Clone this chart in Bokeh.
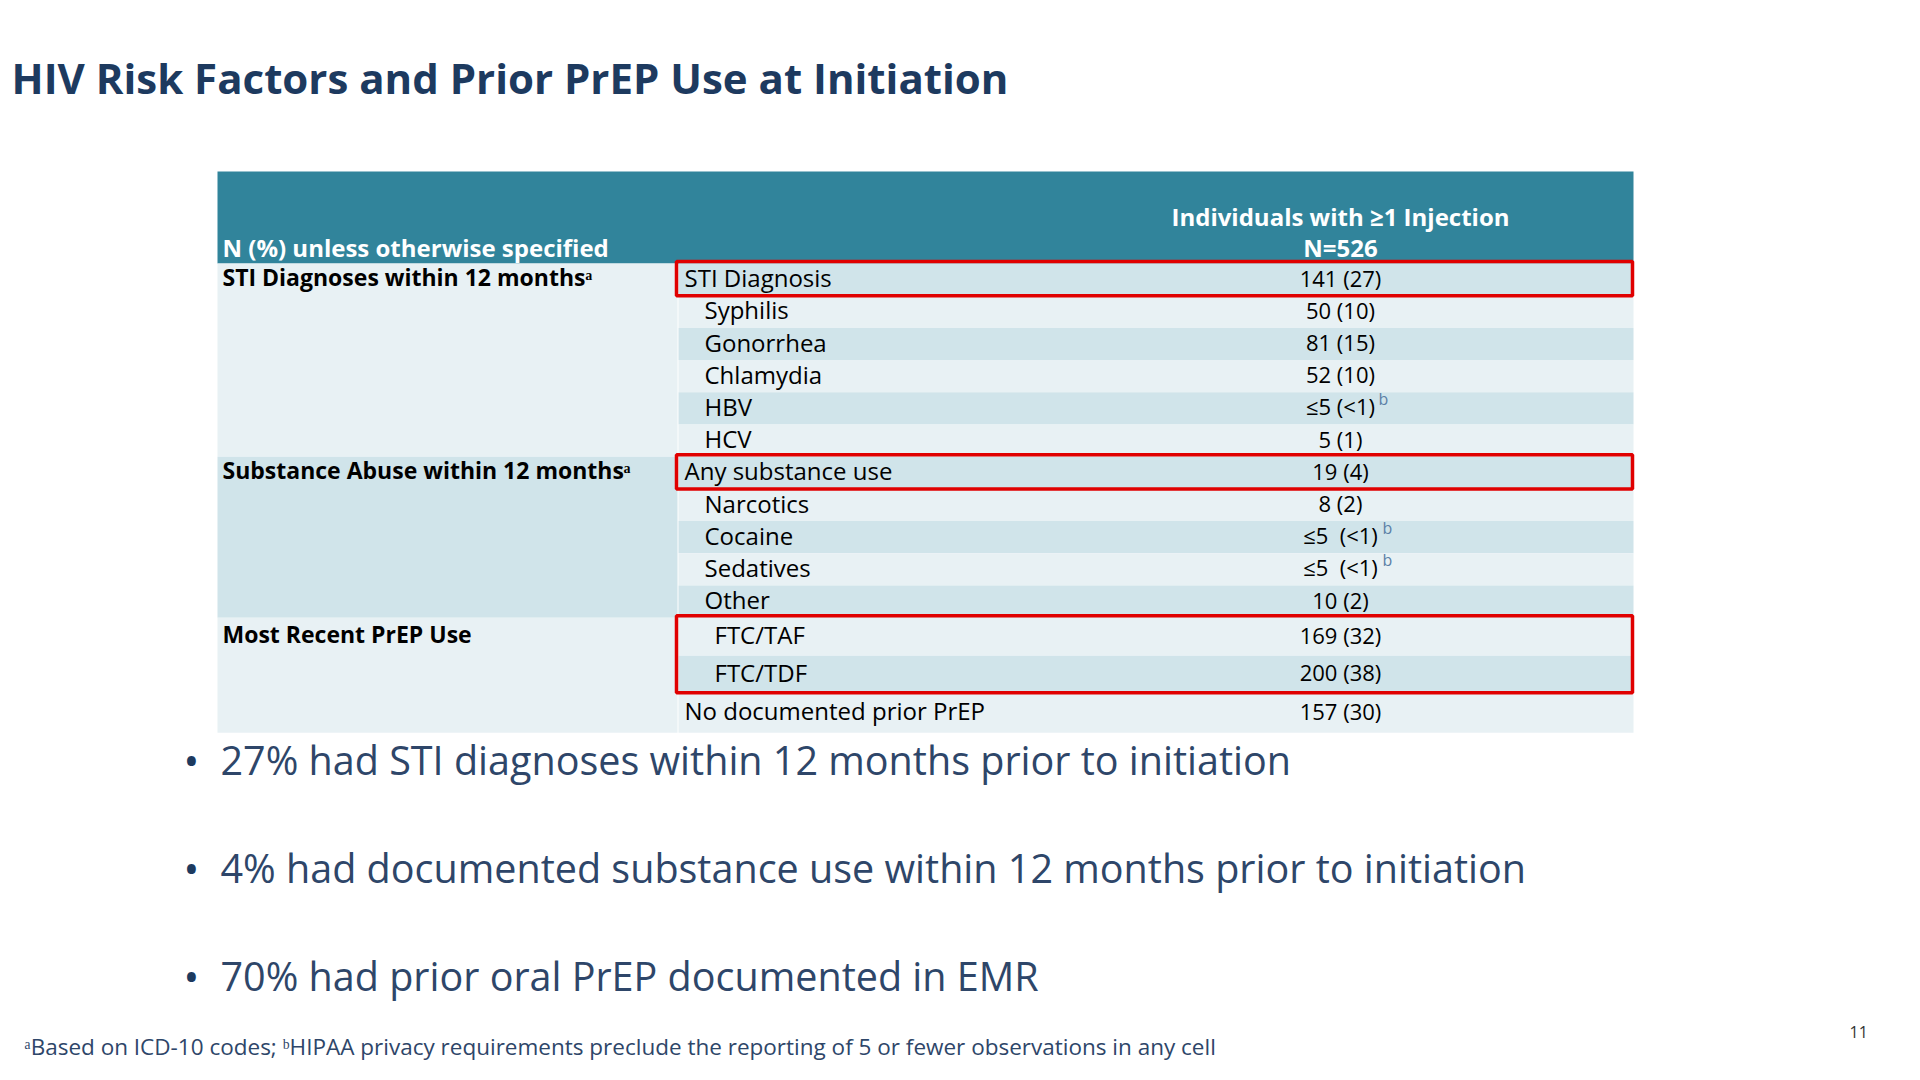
from bokeh.plotting import figure
from bokeh.models import Range1d
from bokeh.core.properties import value
from bokeh.embed import file_html
from bokeh.resources import INLINE

# ---------------- data ----------------
title = "HIV Risk Factors and Prior PrEP Use at Initiation"
header_left = "N (%) unless otherwise specified"
header_right = ["Individuals with \u22651 Injection", "N=526"]

groups = ["STI Diagnoses within 12 months\u1d43",
          "Substance Abuse within 12 months\u1d43",
          "Most Recent PrEP Use"]
group_first_row = [0, 6, 11]
group_sizes = [6, 5, 3]

items = ["STI Diagnosis", "Syphilis", "Gonorrhea", "Chlamydia", "HBV", "HCV",
         "Any substance use", "Narcotics", "Cocaine", "Sedatives", "Other",
         "FTC/TAF", "FTC/TDF", "No documented prior PrEP"]
indent = [0, 1, 1, 1, 1, 1, 0, 1, 1, 1, 1, 2, 2, 0]
values = ["141 (27)", "50 (10)", "81 (15)", "52 (10)", "\u22645 (<1)", "5 (1)",
          "19 (4)", "8 (2)", "\u22645\u00a0 (<1)", "\u22645\u00a0 (<1)", "10 (2)",
          "169 (32)", "200 (38)", "157 (30)"]
note_b = [False, False, False, False, True, False, False, False, True, True,
          False, False, False, False]
highlight = [(0, 0), (6, 6), (11, 12)]

bullets = ["27% had STI diagnoses within 12 months prior to initiation",
           "4% had documented substance use within 12 months prior to initiation",
           "70% had prior oral PrEP documented in EMR"]
footnote = ("\u1d43Based on ICD-10 codes; \u1d47HIPAA privacy requirements preclude "
            "the reporting of 5 or fewer observations in any cell")
page_no = "11"

# ---------------- layout / style ----------------
FONT = value("Open Sans")
NAVY = "#1d3a5f"
SLATE = "#2e4669"
TEAL = "#31849b"
LIGHT = "#e8f1f4"
DARK = "#d0e4ea"
RED = "#e00000"

TL, COL, TR = 217, 677, 1633
HEAD_TOP, HEAD_BOT = 171, 263
row_h = [32.2] * 11 + [38, 37, 40]
edges = [HEAD_BOT]
for h in row_h:
    edges.append(edges[-1] + h)
VAL_X = 1340
INDENT_PX = [0, 20, 30]

W, H = 1904, 1064
p = figure(width=W, height=H, x_range=Range1d(0, W), y_range=Range1d(H, 0),
           output_backend="svg", toolbar_location=None, min_border=0,
           x_axis_type=None, y_axis_type=None)
p.grid.visible = False
p.outline_line_color = None
p.background_fill_color = "white"
p.border_fill_color = "white"

# title
p.text(x=[11], y=[77], text=[title], text_font=FONT, text_font_style="bold",
       text_font_size="42px", text_color=NAVY, text_baseline="middle")

# header band
p.quad(left=[TL], right=[TR], top=[HEAD_TOP], bottom=[HEAD_BOT], fill_color=TEAL, line_color=None)

# group bands (column 1)
g_left, g_right, g_top, g_bot, g_col = [], [], [], [], []
for gi, (r0, n) in enumerate(zip(group_first_row, group_sizes)):
    g_left.append(TL); g_right.append(COL)
    g_top.append(edges[r0]); g_bot.append(edges[r0 + n])
    g_col.append(LIGHT if gi % 2 == 0 else DARK)
p.quad(left=g_left, right=g_right, top=g_top, bottom=g_bot, fill_color=g_col, line_color=None)

# row bands (columns 2-3)
r_top = edges[:-1]
r_bot = edges[1:]
r_col = [DARK if i % 2 == 0 else LIGHT for i in range(len(items))]
p.quad(left=[COL + 1] * len(items), right=[TR] * len(items), top=r_top, bottom=r_bot,
       fill_color=r_col, line_color=None)

# header text
p.text(x=[TL + 5], y=[247], text=[header_left], text_font=FONT, text_font_style="bold",
       text_font_size="24px", text_color="white", text_baseline="middle")
p.text(x=[VAL_X, VAL_X], y=[216, 247], text=header_right, text_font=FONT, text_font_style="bold",
       text_font_size="24px", text_color="white", text_baseline="middle", text_align="center")

# group labels
gy = [(edges[r] + edges[r + 1]) / 2 - 3 for r in group_first_row]
p.text(x=[TL + 5] * len(groups), y=gy, text=groups, text_font=FONT, text_font_style="bold",
       text_font_size="23px", text_color="black", text_baseline="middle")

# item labels and values
iy = [(a + b) / 2 - 2 for a, b in zip(r_top, r_bot)]
ix = [COL + 7 + INDENT_PX[lv] for lv in indent]
p.text(x=ix, y=iy, text=items, text_font=FONT, text_font_size="24px",
       text_color="black", text_baseline="middle")
p.text(x=[VAL_X] * len(values), y=iy, text=values, text_font=FONT, text_font_size="22px",
       text_color="black", text_baseline="middle", text_align="center")
bx = [VAL_X + (38 if "\u00a0" not in v else 42) for v, b in zip(values, note_b) if b]
by = [y - 7 for y, b in zip(iy, note_b) if b]
p.text(x=bx, y=by, text=["b"] * len(bx), text_font=FONT, text_font_size="16px",
       text_color="#5b7fa6", text_baseline="middle")

# highlight boxes
h_top = [edges[a] - 2 for a, b in highlight]
h_bot = [edges[b + 1] for a, b in highlight]
p.quad(left=[COL - 1] * 3, right=[TR - 1] * 3, top=h_top, bottom=h_bot,
       fill_color=None, line_color=RED, line_width=3.5)

# bullets
b_y = [759, 867, 975]
p.text(x=[183] * 3, y=b_y, text=["\u2022"] * 3, text_font=FONT, text_font_size="42px",
       text_color=NAVY, text_baseline="middle")
p.text(x=[220] * 3, y=b_y, text=bullets, text_font=FONT, text_font_size="39.5px",
       text_color=SLATE, text_baseline="middle")

# footnote and page number
p.text(x=[24], y=[1046], text=[footnote], text_font=FONT, text_font_size="22.5px",
       text_color=SLATE, text_baseline="middle")
p.text(x=[1849], y=[1031], text=[page_no], text_font=FONT, text_font_size="16px",
       text_color="#333333", text_baseline="middle")

open("out.html", "w").write(file_html(p, INLINE))
